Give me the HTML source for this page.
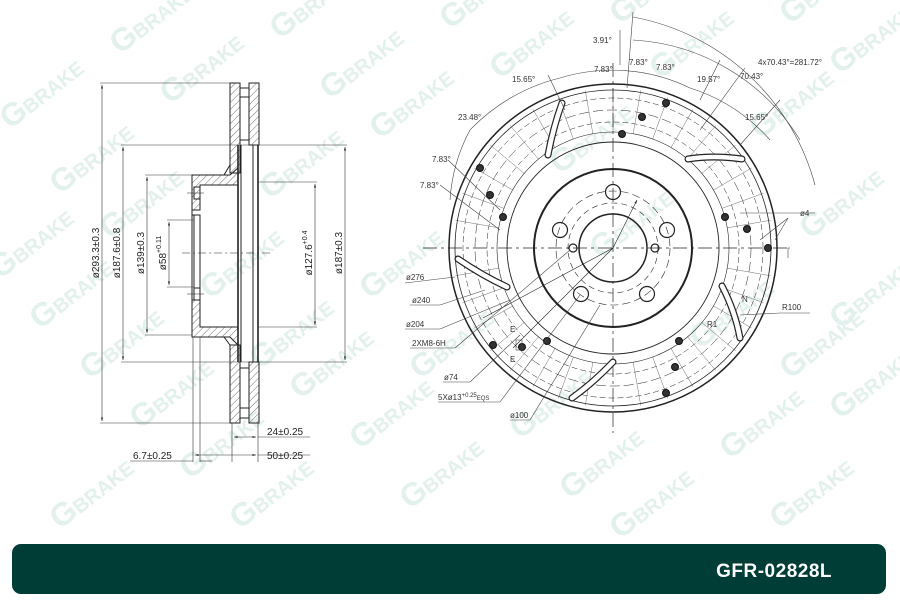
<!DOCTYPE html>
<html><head><meta charset="utf-8"><style>
html,body{margin:0;padding:0;background:#fff;}
svg{display:block;font-family:"Liberation Sans",sans-serif;}
</style></head><body>
<svg width="900" height="600" viewBox="0 0 900 600" xmlns="http://www.w3.org/2000/svg">
<defs>
<pattern id="h" width="5" height="5" patternUnits="userSpaceOnUse" patternTransform="rotate(45)">
<line x1="0" y1="0" x2="0" y2="5" stroke="#333" stroke-width="0.7"/></pattern>
<marker id="a" viewBox="0 0 10 10" refX="10" refY="5" markerWidth="6" markerHeight="6" orient="auto-start-reverse"><path d="M0,2 L10,5 L0,8z" fill="#222"/></marker>
<g id="wm"><text font-size="20" font-weight="bold" fill="#e2f1ed" font-family="Liberation Sans,sans-serif" transform="rotate(-38)"><tspan font-size="32">G</tspan>BRAKE</text></g>
</defs>
<rect width="900" height="600" fill="#fff"/>
<!-- watermarks -->
<g>
<use href="#wm" x="10" y="130"/><use href="#wm" x="120" y="55"/><use href="#wm" x="280" y="40"/><use href="#wm" x="450" y="30"/><use href="#wm" x="620" y="25"/><use href="#wm" x="790" y="25"/>
<use href="#wm" x="60" y="195"/><use href="#wm" x="170" y="105"/><use href="#wm" x="330" y="100"/><use href="#wm" x="500" y="80"/><use href="#wm" x="660" y="80"/><use href="#wm" x="840" y="75"/>
<use href="#wm" x="0" y="280"/><use href="#wm" x="110" y="240"/><use href="#wm" x="270" y="200"/><use href="#wm" x="380" y="140"/><use href="#wm" x="560" y="175"/><use href="#wm" x="760" y="140"/>
<use href="#wm" x="40" y="330"/><use href="#wm" x="210" y="300"/><use href="#wm" x="370" y="300"/><use href="#wm" x="600" y="260"/><use href="#wm" x="810" y="240"/>
<use href="#wm" x="90" y="380"/><use href="#wm" x="260" y="370"/><use href="#wm" x="420" y="380"/><use href="#wm" x="700" y="350"/><use href="#wm" x="840" y="330"/>
<use href="#wm" x="140" y="430"/><use href="#wm" x="300" y="400"/><use href="#wm" x="520" y="440"/><use href="#wm" x="790" y="380"/>
<use href="#wm" x="190" y="480"/><use href="#wm" x="360" y="450"/><use href="#wm" x="570" y="500"/><use href="#wm" x="730" y="460"/><use href="#wm" x="840" y="420"/>
<use href="#wm" x="60" y="530"/><use href="#wm" x="240" y="530"/><use href="#wm" x="410" y="510"/><use href="#wm" x="620" y="540"/><use href="#wm" x="780" y="530"/>
</g>

<!-- LEFT SECTION VIEW -->
<g stroke="#222" fill="none" stroke-width="1">
<rect x="230" y="83" width="10" height="90" fill="url(#h)"/>
<rect x="249" y="83" width="10" height="62" fill="url(#h)"/>
<rect x="230" y="345" width="10" height="78" fill="url(#h)"/>
<rect x="249" y="362" width="10" height="61" fill="url(#h)"/>
<line x1="240" y1="88" x2="249" y2="88"/><line x1="240" y1="97" x2="249" y2="97"/>
<line x1="240" y1="418" x2="249" y2="418"/><line x1="240" y1="408" x2="249" y2="408"/>
<line x1="240" y1="140" x2="249" y2="140"/><line x1="240" y1="368" x2="249" y2="368"/>
<path d="M230,165 L224,175 L192,175 L192,337 L224,337 L230,345" />
<path d="M192,175 L230,175 L238,168 L238,185 L200,185 L200,210 L192,210z" fill="url(#h)"/>
<path d="M192,337 L230,337 L238,345 L238,327 L200,327 L200,300 L192,300z" fill="url(#h)"/>
<rect x="192" y="215" width="8" height="85" fill="none"/>
<line x1="194" y1="215" x2="194" y2="300"/>
<rect x="194" y="187" width="6" height="12"/><rect x="194" y="288" width="6" height="12"/>
<line x1="187" y1="193" x2="204" y2="193" stroke-width="0.6"/><line x1="187" y1="294" x2="204" y2="294" stroke-width="0.6"/>
<line x1="238" y1="145" x2="238" y2="362" stroke-width="1.6"/>
<line x1="241" y1="145" x2="241" y2="362"/>
<line x1="253" y1="145" x2="253" y2="362"/>
<line x1="258" y1="145" x2="258" y2="362" stroke-width="1.6"/>
<line x1="249" y1="145" x2="259" y2="145"/><line x1="249" y1="362" x2="259" y2="362"/>
<line x1="182" y1="253" x2="272" y2="253" stroke-dasharray="8,3,2,3" stroke-width="0.6"/>
</g>
<g stroke="#333" stroke-width="0.6" fill="none">
<line x1="100" y1="83" x2="230" y2="83"/><line x1="100" y1="423" x2="230" y2="423"/>
<line x1="102" y1="85" x2="102" y2="421" marker-start="url(#a)" marker-end="url(#a)"/>
<line x1="121" y1="145" x2="249" y2="145"/><line x1="121" y1="362" x2="249" y2="362"/>
<line x1="123" y1="147" x2="123" y2="360" marker-start="url(#a)" marker-end="url(#a)"/>
<line x1="145" y1="175" x2="192" y2="175"/><line x1="145" y1="335" x2="192" y2="335"/>
<line x1="147" y1="177" x2="147" y2="333" marker-start="url(#a)" marker-end="url(#a)"/>
<line x1="167" y1="220" x2="194" y2="220"/><line x1="167" y1="287" x2="194" y2="287"/>
<line x1="169" y1="222" x2="169" y2="285" marker-start="url(#a)" marker-end="url(#a)"/>
<line x1="258" y1="182" x2="317" y2="182"/><line x1="258" y1="327" x2="317" y2="327"/>
<line x1="315" y1="184" x2="315" y2="325" marker-start="url(#a)" marker-end="url(#a)"/>
<line x1="259" y1="145" x2="347" y2="145"/><line x1="259" y1="362" x2="347" y2="362"/>
<line x1="345" y1="147" x2="345" y2="360" marker-start="url(#a)" marker-end="url(#a)"/>
<line x1="232" y1="423" x2="232" y2="462"/><line x1="258" y1="423" x2="258" y2="462"/>
<line x1="193" y1="337" x2="193" y2="462"/><line x1="200" y1="337" x2="200" y2="462"/>
<line x1="234" y1="437" x2="256" y2="437" marker-start="url(#a)" marker-end="url(#a)"/><line x1="258" y1="437" x2="310" y2="437"/>
<line x1="195" y1="455" x2="256" y2="455" marker-start="url(#a)" marker-end="url(#a)"/><line x1="258" y1="455" x2="310" y2="455"/>
<line x1="130" y1="461" x2="193" y2="461"/><line x1="200" y1="461" x2="212" y2="461"/>
</g>
<g font-size="10" fill="#222">
<text transform="translate(99,253) rotate(-90)" text-anchor="middle">ø293.3±0.3</text>
<text transform="translate(120,253) rotate(-90)" text-anchor="middle">ø187.6±0.8</text>
<text transform="translate(144,253) rotate(-90)" text-anchor="middle">ø139±0.3</text>
<text transform="translate(166,253) rotate(-90)" text-anchor="middle">ø58<tspan font-size="7" dy="-5">+0.11</tspan></text>
<text transform="translate(312,253) rotate(-90)" text-anchor="middle">ø127.6<tspan font-size="7" dy="-5">+0.4</tspan></text>
<text transform="translate(342,253) rotate(-90)" text-anchor="middle">ø187±0.3</text>
<text x="267" y="435">24±0.25</text>
<text x="267" y="459">50±0.25</text>
<text x="133" y="459">6.7±0.25</text>
</g>

<!-- RIGHT DISC VIEW -->
<g transform="translate(613,248)" fill="none" stroke="#222">
<circle r="164" stroke-width="1.5"/>
<circle r="158" stroke-width="0.8"/>
<circle r="150" stroke-width="0.5" stroke-dasharray="6,3"/>
<circle r="138" stroke-width="0.5" stroke-dasharray="10,4"/>
<circle r="126" stroke-width="0.5" stroke-dasharray="6,3"/>
<circle r="116" stroke-width="0.6"/>
<circle r="106" stroke-width="0.9"/>
<circle r="79" stroke-width="2"/>
<circle r="57" stroke-width="0.6" stroke-dasharray="8,4"/>
<circle r="45" stroke-width="0.6" stroke-dasharray="6,4"/>
<circle r="34" stroke-width="1.5"/>
<g stroke-width="0.4" stroke="#555">
<line x1="0" y1="-116" x2="0" y2="-160"/>
<line x1="0" y1="-116" x2="0" y2="-160" transform="rotate(10)"/><line x1="0" y1="-116" x2="0" y2="-160" transform="rotate(20)"/><line x1="0" y1="-116" x2="0" y2="-160" transform="rotate(30)"/><line x1="0" y1="-116" x2="0" y2="-160" transform="rotate(40)"/><line x1="0" y1="-116" x2="0" y2="-160" transform="rotate(50)"/><line x1="0" y1="-116" x2="0" y2="-160" transform="rotate(60)"/><line x1="0" y1="-116" x2="0" y2="-160" transform="rotate(70)"/><line x1="0" y1="-116" x2="0" y2="-160" transform="rotate(80)"/><line x1="0" y1="-116" x2="0" y2="-160" transform="rotate(100)"/><line x1="0" y1="-116" x2="0" y2="-160" transform="rotate(110)"/><line x1="0" y1="-116" x2="0" y2="-160" transform="rotate(120)"/><line x1="0" y1="-116" x2="0" y2="-160" transform="rotate(130)"/><line x1="0" y1="-116" x2="0" y2="-160" transform="rotate(140)"/><line x1="0" y1="-116" x2="0" y2="-160" transform="rotate(150)"/><line x1="0" y1="-116" x2="0" y2="-160" transform="rotate(160)"/><line x1="0" y1="-116" x2="0" y2="-160" transform="rotate(170)"/><line x1="0" y1="-116" x2="0" y2="-160" transform="rotate(190)"/><line x1="0" y1="-116" x2="0" y2="-160" transform="rotate(200)"/><line x1="0" y1="-116" x2="0" y2="-160" transform="rotate(210)"/><line x1="0" y1="-116" x2="0" y2="-160" transform="rotate(220)"/><line x1="0" y1="-116" x2="0" y2="-160" transform="rotate(230)"/><line x1="0" y1="-116" x2="0" y2="-160" transform="rotate(240)"/><line x1="0" y1="-116" x2="0" y2="-160" transform="rotate(250)"/><line x1="0" y1="-116" x2="0" y2="-160" transform="rotate(260)"/><line x1="0" y1="-116" x2="0" y2="-160" transform="rotate(280)"/><line x1="0" y1="-116" x2="0" y2="-160" transform="rotate(290)"/><line x1="0" y1="-116" x2="0" y2="-160" transform="rotate(300)"/><line x1="0" y1="-116" x2="0" y2="-160" transform="rotate(310)"/><line x1="0" y1="-116" x2="0" y2="-160" transform="rotate(320)"/><line x1="0" y1="-116" x2="0" y2="-160" transform="rotate(330)"/><line x1="0" y1="-116" x2="0" y2="-160" transform="rotate(340)"/><line x1="0" y1="-116" x2="0" y2="-160" transform="rotate(350)"/>
</g>
<line x1="-190" y1="0" x2="175" y2="0" stroke-width="0.7" stroke-dasharray="14,4,3,4"/>
<line x1="0" y1="-185" x2="0" y2="185" stroke-width="0.7" stroke-dasharray="14,4,3,4"/>
<line x1="0" y1="0" x2="24" y2="-48" stroke-width="0.6" marker-end="url(#a)"/>
<line x1="0" y1="0" x2="-100" y2="100" stroke-width="0.6"/>
<line x1="0" y1="0" x2="-130" y2="70" stroke-width="0.6"/>
<circle cx="0" cy="-56" r="7.5" stroke-width="1.2"/>
<circle cx="-53" cy="-18" r="7.5" stroke-width="1.2"/>
<circle cx="54" cy="-18" r="7.5" stroke-width="1.2"/>
<circle cx="-32" cy="46" r="7.5" stroke-width="1.2"/>
<circle cx="34" cy="46" r="7.5" stroke-width="1.2"/>
<circle cx="-40" cy="0" r="4" stroke-width="1.2"/>
<circle cx="42" cy="0" r="4" stroke-width="1.2"/>
<g stroke-linecap="round">
<path d="M-51,-145 Q-60,-120 -65,-93" stroke-width="7" stroke="#222"/><path d="M-51,-145 Q-60,-120 -65,-93" stroke-width="4.6" stroke="#fff"/>
<path d="M75,-89 Q100,-93 129,-89" stroke-width="7"/><path d="M75,-89 Q100,-93 129,-89" stroke-width="4.6" stroke="#fff"/>
<path d="M-155,11 Q-130,28 -106,39" stroke-width="7"/><path d="M-155,11 Q-130,28 -106,39" stroke-width="4.6" stroke="#fff"/>
<path d="M109,38 Q122,63 127,90" stroke-width="7"/><path d="M109,38 Q122,63 127,90" stroke-width="4.6" stroke="#fff"/>
<path d="M0,114 Q-20,135 -41,150" stroke-width="7"/><path d="M0,114 Q-20,135 -41,150" stroke-width="4.6" stroke="#fff"/>
</g>
</g>
<g fill="#333" stroke="#111" stroke-width="1">
<circle cx="666" cy="103" r="3.5"/><circle cx="642" cy="117" r="3.5"/><circle cx="622" cy="134" r="3.5"/>
<circle cx="480" cy="168" r="3.5"/><circle cx="490" cy="195" r="3.5"/><circle cx="503" cy="217" r="3.5"/>
<circle cx="725" cy="217" r="3.5"/><circle cx="747" cy="229" r="3.5"/><circle cx="768" cy="248" r="3.5"/>
<circle cx="493" cy="345" r="3.5"/><circle cx="522" cy="347" r="3.5"/><circle cx="547" cy="341" r="3.5"/>
<circle cx="679" cy="341" r="3.5"/><circle cx="675" cy="367" r="3.5"/><circle cx="666" cy="393" r="3.5"/>
</g>
<g stroke="#444" stroke-width="0.6" fill="none">
<path d="M633,17 A232,232 0 0 1 815,185" />
<path d="M633,40 A209,209 0 0 1 800,140" />
<path d="M560,78 A178,178 0 0 1 690,88"/>
<path d="M470,130 A185,185 0 0 1 560,78"/>
<path d="M450,200 A170,170 0 0 1 470,130"/>
<path d="M690,88 A178,178 0 0 1 770,140"/>
<line x1="633" y1="12" x2="627" y2="88"/>
<line x1="620" y1="30" x2="620" y2="65"/>
<line x1="448" y1="160" x2="500" y2="210"/>
<line x1="440" y1="185" x2="500" y2="230"/>
<line x1="548" y1="75" x2="565" y2="110"/>
<line x1="720" y1="60" x2="700" y2="100"/>
<line x1="745" y1="68" x2="700" y2="130"/>
<line x1="780" y1="100" x2="740" y2="145"/>
<line x1="740" y1="213" x2="815" y2="213"/>
<line x1="788" y1="218" x2="760" y2="240"/>
<line x1="788" y1="218" x2="775" y2="240"/>
<line x1="788" y1="248" x2="790" y2="248"/><line x1="788" y1="248" x2="788" y2="258"/>
<line x1="740" y1="315" x2="780" y2="313"/><line x1="780" y1="313" x2="810" y2="313"/>
<line x1="405" y1="283" x2="455" y2="277"/>
<line x1="410" y1="305" x2="440" y2="305"/><line x1="440" y1="305" x2="485" y2="290"/>
<line x1="405" y1="329" x2="440" y2="329"/><line x1="440" y1="329" x2="510" y2="300"/>
<line x1="410" y1="348" x2="455" y2="348"/><line x1="455" y1="348" x2="570" y2="250"/>
<line x1="443" y1="382" x2="470" y2="382"/><line x1="470" y1="382" x2="520" y2="335"/>
<line x1="438" y1="402" x2="500" y2="402"/><line x1="500" y1="402" x2="580" y2="295"/>
<line x1="510" y1="420" x2="530" y2="420"/><line x1="530" y1="420" x2="600" y2="305"/>
<rect x="516" y="340" width="6" height="10"/>
</g>
<g font-size="8" fill="#333">
<text x="593" y="43">3.91°</text>
<text x="629" y="65">7.83°</text>
<text x="594" y="72">7.83°</text>
<text x="656" y="70">7.83°</text>
<text x="512" y="82">15.65°</text>
<text x="697" y="82">19.57°</text>
<text x="740" y="79">70.43°</text>
<text x="758" y="65">4x70.43°=281.72°</text>
<text x="745" y="120">15.65°</text>
<text x="458" y="120">23.48°</text>
<text x="432" y="162">7.83°</text>
<text x="420" y="188">7.83°</text>
<text x="800" y="216">ø4</text>
<text x="782" y="310">R100</text>
<text x="742" y="302">N</text><text x="707" y="327">R1</text>
<text x="406" y="280">ø276</text>
<text x="412" y="303">ø240</text>
<text x="406" y="327">ø204</text>
<text x="412" y="346">2XM8-6H</text>
<text x="444" y="380">ø74</text>
<text x="438" y="400">5Xø13<tspan font-size="6" dy="-3">+0.25</tspan><tspan font-size="6" dy="3">EQS</tspan></text>
<text x="510" y="418">ø100</text>
<text x="510" y="332">E</text><text x="510" y="362">E</text>
</g>

<rect x="12" y="544" width="874" height="50" rx="9" fill="#003d37"/>
<text x="832" y="577" text-anchor="end" fill="#fff" font-size="19" font-weight="bold" letter-spacing="0.5">GFR-02828L</text>
</svg>
</body></html>
